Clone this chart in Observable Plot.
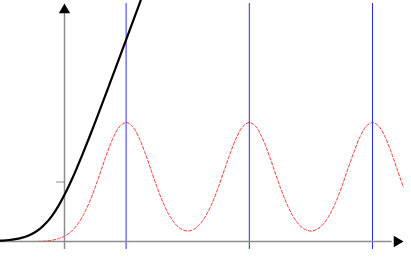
<!DOCTYPE html>
<html><head><meta charset="utf-8">
<script src="https://cdn.jsdelivr.net/npm/d3@7"></script>
<script src="https://cdn.jsdelivr.net/npm/@observablehq/plot@0.6"></script>
<style>html,body{margin:0;padding:0;background:#fff;overflow:hidden}</style>
</head><body><div id="chart"></div>
<script>
// red dashed series (x, y)
const redX = [-1.0,-0.9,-0.8,-0.7,-0.6,-0.5,-0.4,-0.3,-0.2,-0.1,0.0,0.1,0.2,0.3,0.4,0.5,0.6,0.7,0.8,0.9,1.0,1.1,1.2,1.3,1.4,1.5,1.6,1.7,1.8,1.9,2.0,2.1,2.2,2.3,2.4,2.5,2.6,2.7,2.8,2.9,3.0,3.1,3.2,3.3,3.4,3.5,3.6,3.7,3.8,3.9,4.0,4.1,4.2,4.3,4.4,4.5,4.6,4.7,4.8,4.9,5.0,5.1,5.2,5.3,5.4,5.5];
const redY = [0,0,0,0,0,0.001,0.004,0.010,0.022,0.046,0.088,0.159,0.271,0.433,0.649,0.916,1.213,1.510,1.765,1.938,2.0,1.938,1.765,1.510,1.217,0.918,0.653,0.443,0.293,0.205,0.176,0.205,0.293,0.443,0.653,0.918,1.217,1.510,1.765,1.938,2.0,1.938,1.765,1.510,1.217,0.918,0.653,0.443,0.293,0.205,0.176,0.205,0.293,0.443,0.653,0.918,1.217,1.510,1.765,1.938,2.0,1.938,1.765,1.510,1.213,0.916];
// black solid series
const blackX = [-1.05,-1.0,-0.9,-0.8,-0.7,-0.6,-0.5,-0.4,-0.3,-0.2,-0.1,0.0,0.1,0.2,0.3,0.4,0.5,0.6,0.7,0.8,0.9,1.0,1.1,1.2,1.3];
const blackY = [0.013,0.016,0.025,0.039,0.061,0.094,0.142,0.212,0.309,0.436,0.595,0.784,0.999,1.234,1.484,1.744,2.011,2.282,2.558,2.834,3.112,3.389,3.669,3.949,4.229];
// vertical marker lines
const markers = [1, 3, 5];
const yTicks = [1];

const red = redX.map((x, i) => ({x, y: redY[i]}));
const black = blackX.map((x, i) => ({x, y: blackY[i]}));

const chart = Plot.plot({
  width: 411, height: 259,
  marginTop: 0, marginRight: 0, marginBottom: 0, marginLeft: 0,
  x: {type: "linear", domain: [-1.039, 5.633], axis: null},
  y: {type: "linear", domain: [-0.3025, 4.050], axis: null},
  marks: [
    Plot.line(red, {x: "x", y: "y", stroke: "#ff3333", strokeWidth: 1, strokeDasharray: "3,2", curve: "catmull-rom"}),
    Plot.ruleX(markers, {x: d => d, y1: -0.134, y2: 4.0, stroke: "#2a2aff", strokeWidth: 1}),
    Plot.ruleY([0], {x1: -1.04, x2: 5.32, stroke: "#8c8c8c", strokeWidth: 1.5}),
    Plot.ruleX([0], {y1: -0.134, y2: 3.86, stroke: "#8c8c8c", strokeWidth: 1.5}),
    Plot.ruleY(yTicks, {y: d => d, x1: -0.13, x2: 0, stroke: "#8c8c8c", strokeWidth: 1}),
    Plot.line(black, {x: "x", y: "y", stroke: "black", strokeWidth: 2.2, curve: "catmull-rom"}),
    Plot.dot([0], {x: d => d, frameAnchor: "top", dy: 9.5, symbol: "triangle", r: 4.2, fill: "black", stroke: "none"}),
    Plot.dot([0], {y: d => d, frameAnchor: "right", dx: -14.5, symbol: "triangle", r: 4.2, rotate: 90, fill: "black", stroke: "none"})
  ]
});
document.getElementById("chart").appendChild(chart);
</script>
</body></html>
